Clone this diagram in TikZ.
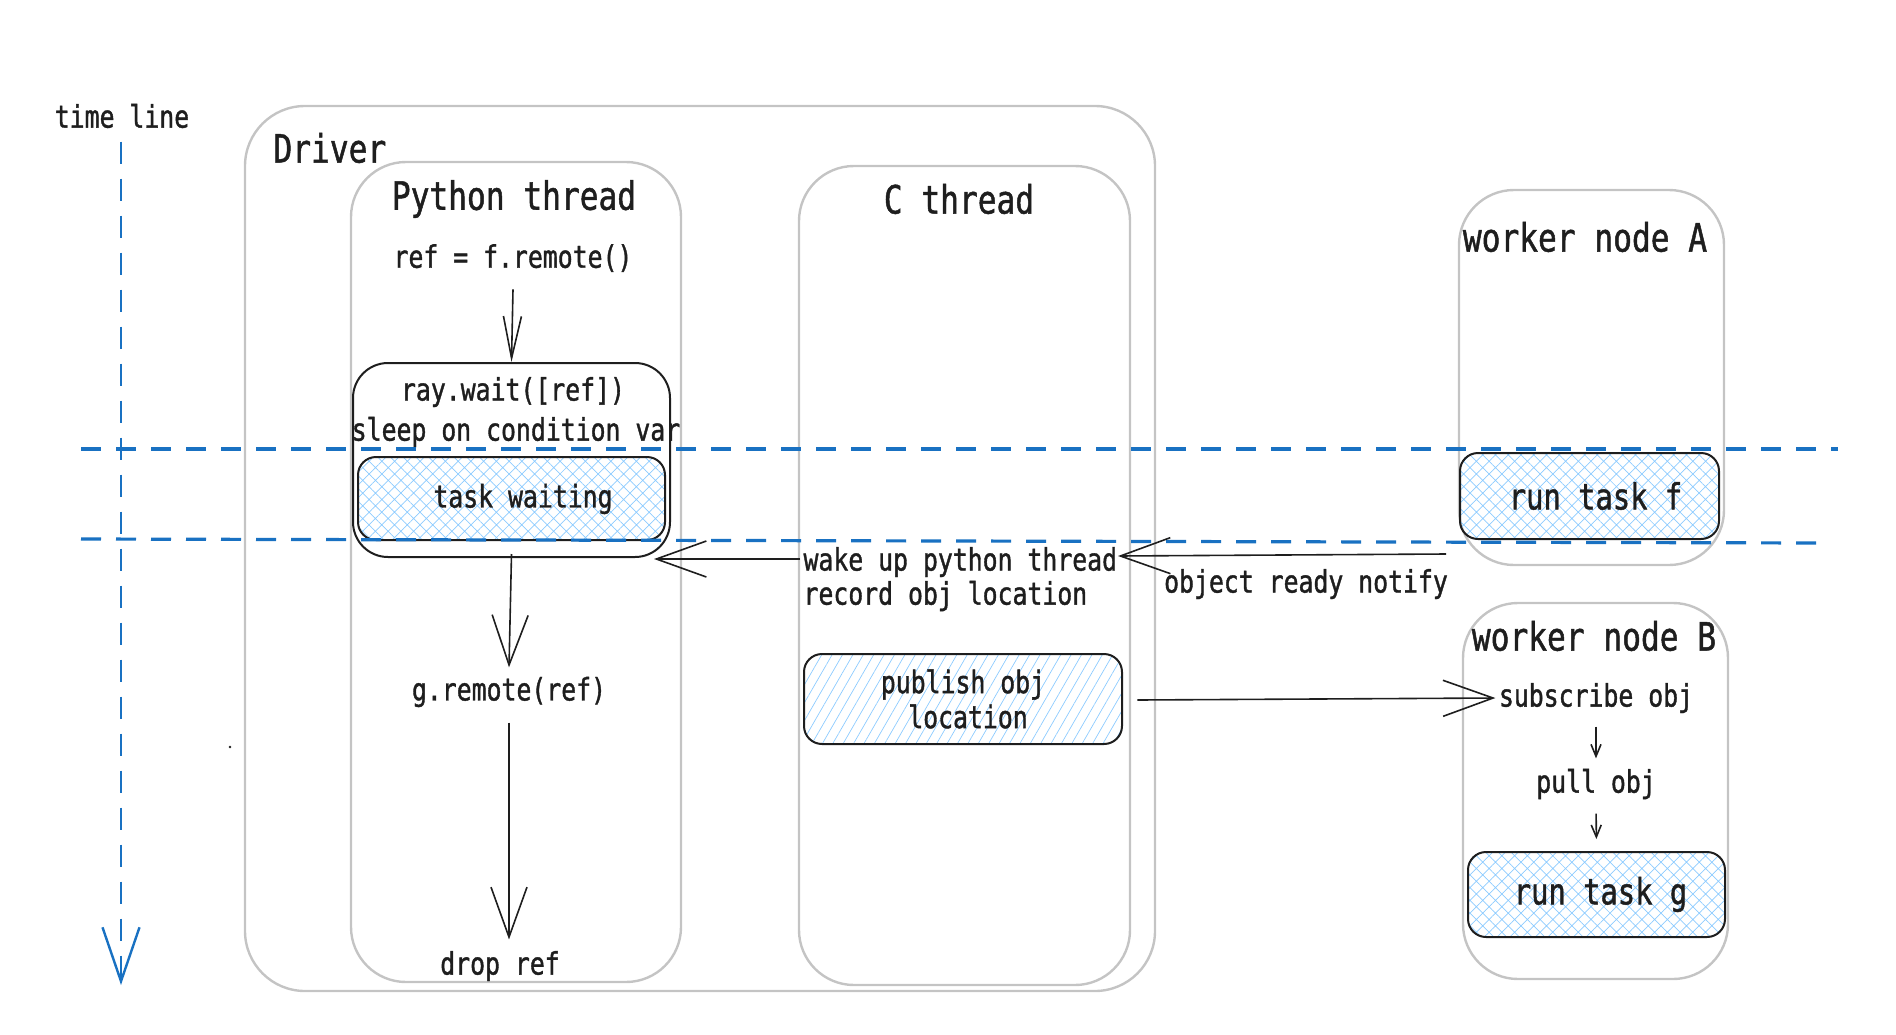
\documentclass[tikz,border=0pt]{standalone}
\usepackage{fontspec}
\setmainfont{DejaVu Sans Mono}[FakeStretch=0.8,FakeBold=1.2]
\usetikzlibrary{arrows.meta,patterns.meta}
\definecolor{ink}{HTML}{1E1E1E}
\definecolor{gbox}{HTML}{C4C4C4}
\definecolor{tblue}{HTML}{1971C2}
\definecolor{hatchc}{HTML}{8CCBFF}
\tikzset{
  greybox/.style={draw=gbox, line width=2.4pt, rounded corners=55pt, inner sep=0pt},
  blackbox/.style={draw=ink, line width=2pt, rounded corners=18pt, inner sep=0pt},
  xhatch/.style={blackbox, pattern={Hatch[angle=45,distance=9pt,line width=0.7pt]}, pattern color=hatchc},
  dhatch/.style={blackbox, pattern={Lines[angle=60,distance=9pt,line width=0.7pt]}, pattern color=hatchc},
  body/.style={text=ink, font=\fontsize{31}{35}\selectfont},
  midtxt/.style={text=ink, font=\fontsize{36}{40}\selectfont},
  title/.style={text=ink, font=\fontsize{39}{44}\selectfont},
  arr/.style={draw=ink, line width=1.6pt, -{Straight Barb[length=50pt,width=36pt,line width=1.6pt]}},
  arrnarrow/.style={draw=ink, line width=1.6pt, -{Straight Barb[length=42pt,width=18pt,line width=1.6pt]}},
  arrsmall/.style={draw=ink, line width=1.6pt, -{Straight Barb[length=12pt,width=10pt,line width=1.6pt]}},
  bluedash/.style={draw=tblue, line width=3.2pt, dash pattern=on 20pt off 15pt},
  tline/.style={draw=tblue, line width=2.4pt, dash pattern=on 22pt off 15pt, -{Straight Barb[length=54pt,width=37pt,line width=2.4pt]}}
}
\begin{document}
\begin{tikzpicture}[x=1pt,y=-1pt]
\useasboundingbox (0,0) rectangle (1896,1034);
% grey containers
\node[greybox, rounded corners=60pt, minimum width=910pt, minimum height=885pt] (driver) at (700,548.5) {};
\node[greybox, minimum width=330pt, minimum height=820pt] (py) at (516,572) {};
\node[greybox, minimum width=331pt, minimum height=819pt] (cth) at (964.5,575.5) {};
\node[greybox, minimum width=265pt, minimum height=375pt] (wa) at (1591.5,377.5) {};
\node[greybox, minimum width=265pt, minimum height=376pt] (wb) at (1595.5,791) {};
% titles
\node[title, anchor=west] (drivert) at (270,148) {Driver};
\node[title] (pyt) at (514,199) {Python thread};
\node[title] (ct) at (959,199) {C thread};
\node[title] (wat) at (1585,237) {worker node A};
\node[title] (wbt) at (1594,636) {worker node B};
% python thread content
\node[body] (ref) at (513,258) {ref = f.remote()};
\node[blackbox, rounded corners=35pt, minimum width=317pt, minimum height=194pt] (raywait) at (511.5,460) {};
\node[xhatch, minimum width=307pt, minimum height=83pt] (taskwait) at (511.5,498.5) {};
\node[body] (tw) at (523,499) {task waiting};
\node[body] (rw1) at (513,392) {ray.wait([ref])};
\node[body] (rw2) at (516,432) {sleep on condition var};
\node[body] (gremote) at (509,692) {g.remote(ref)};
\node[body] (drop) at (500,966) {drop ref};
% C thread content
\node[body, anchor=west] (wake) at (800,562) {wake up python thread};
\node[body, anchor=west] (rec) at (800,596) {record obj location};
\node[dhatch, minimum width=318pt, minimum height=90pt, align=center, body] (publish) at (963,699) {publish obj\\\hspace*{10pt}location};
% workers
\node[xhatch, minimum width=259pt, minimum height=86pt, midtxt] (runf) at (1589.5,496) {\hspace*{12pt}run task f};
\node[body] (notify) at (1306,584) {object ready notify};
\node[body] (subscribe) at (1596,698) {subscribe obj};
\node[body] (pull) at (1596,784) {pull obj};
\node[xhatch, minimum width=257pt, minimum height=85pt, midtxt] (rung) at (1596.5,894.5) {\hspace*{8pt}run task g};
% time line
\node[body] (timeline) at (122,116) {time line};
\coordinate (tend) at (121,985);
\draw[tline] ([yshift=-10pt]timeline.south -| tend) -- (tend);
% blue dashed time marks
\coordinate (h1a) at (81,449);
\coordinate (h1b) at (1838,449);
\coordinate (h2a) at (81,539);
\coordinate (h2b) at (1826,543);
\draw[bluedash] (h1a) -- (h1b);
\draw[bluedash] (h2a) -- (h2b);
% connectors
\draw[arrnarrow] ([yshift=-14pt]ref.south) -- (raywait.north);
\draw[arr] ([yshift=4pt]raywait.south) -- ([yshift=6pt]gremote.north);
\draw[arr] ([yshift=-12pt]gremote.south) -- ([yshift=8pt]gremote.south |- drop.north);
\coordinate (wt) at (654,559);
\draw[arr] (wake.west |- wt) -- (wt);
\coordinate (nA) at (1446,554);
\coordinate (nC) at (1118,556);
\draw[arr] (nA) -- (nC);
\draw[arr] ([xshift=15pt,yshift=-1pt]publish.east) -- (subscribe.west);
\draw[arrsmall, shorten <=10pt, shorten >=7pt] (subscribe.south) -- (pull.north);
\draw[arrsmall, shorten <=11pt, shorten >=12pt] (pull.south) -- (rung.north);
% stray dot
\fill[ink] (230,747) circle (1.4pt);
\end{tikzpicture}
\end{document}
